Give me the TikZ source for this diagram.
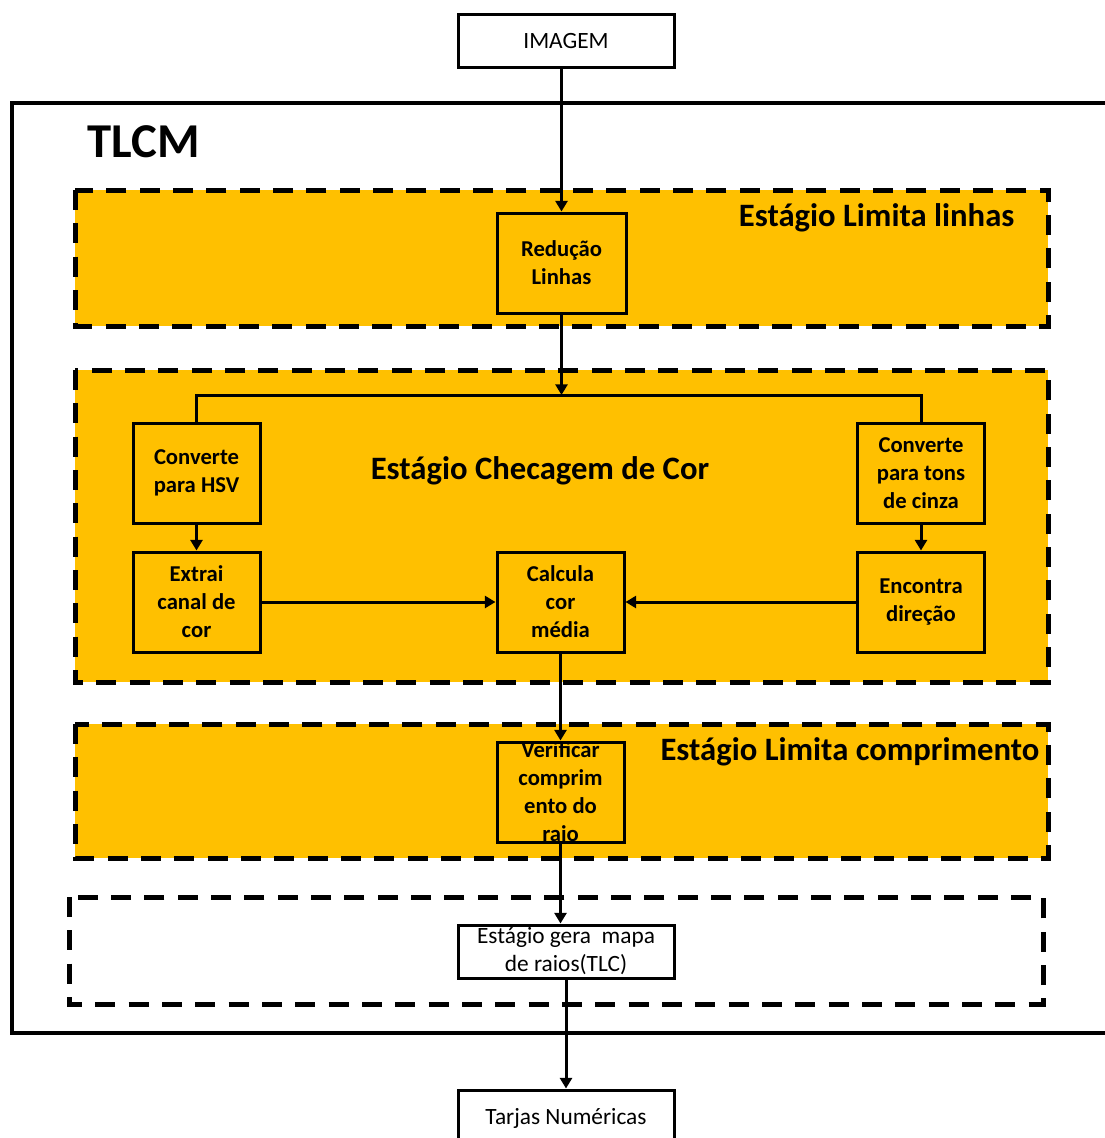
\documentclass[tikz,border=0pt]{standalone}
\usepackage{fontspec}
\setmainfont{Carlito}
\usetikzlibrary{arrows.meta}
\definecolor{stagegold}{HTML}{FFC000}

\begin{document}
\begin{tikzpicture}[
  x=0.75pt, y=-0.75pt,
  every node/.style={font=\fontsize{17.5}{21}\selectfont},
  box/.style={rectangle, draw, line width=2.25pt, minimum width=95.25pt,
    minimum height=75pt, inner sep=0pt, align=center,
    font=\fontsize{17}{21}\selectfont\bfseries},
  wbox/.style={rectangle, draw, fill=white, line width=2.25pt,
    minimum width=162pt, minimum height=39.75pt, inner sep=0pt, align=center},
  stage/.style={draw, line width=3.75pt, dash pattern=on 15pt off 10pt},
  title/.style={font=\fontsize{24.5}{28}\selectfont\bfseries},
  arr/.style={-{Triangle[length=8pt,width=9pt]}, line width=2.25pt},
  line/.style={line width=2.25pt},
]
  \clip (0,0) rectangle (1105,1138);

  %% Outer TLCM frame (runs off the right edge)
  \draw[line width=3pt] (12,103) rectangle (1112,1033);
  \node[anchor=west, font=\fontsize{36.5}{40}\selectfont\bfseries] (tlcm) at (83,142) {TLCM};

  %% Stage frames
  \draw[stage, fill=stagegold] (75,190) rectangle (1048,326);
  \draw[stage, fill=stagegold] (75,370) rectangle (1048,682);
  \draw[stage, fill=stagegold] (75,724) rectangle (1048,858);
  \draw[stage] (69,897) rectangle (1043,1004);

  \node[title, anchor=east] (st1) at (1019,218) {Estágio Limita linhas};
  \node[title] (st2) at (540,471) {Estágio Checagem de Cor};
  \node[title, anchor=east] (st3) at (1044,752) {Estágio Limita comprimento};

  %% Input / output boxes
  \node[wbox] (img) at (566,41.5) {IMAGEM};
  \node[wbox] (gera) at (566,951.5) {Estágio gera\ \ mapa\\de raios(TLC)};
  \node[wbox, minimum height=45pt] (tarjas) at (566,1120) {};
  \node at (566,1118) {Tarjas Numéricas};

  %% Stage 1
  \node[box, minimum width=96.75pt] (red) at (561.5,263) {Redução\\Linhas};

  %% Stage 2
  \node[box] (hsv) at (196.5,473) {Converte\\para HSV};
  \node[box] (extrai) at (196.5,602) {Extrai\\canal de\\cor};
  \node[box] (calc) at (560.5,602) {Calcula\\cor\\média};
  \node[box] (cinza) at (921,473) {Converte\\para tons\\de cinza};
  \node[box] (dir) at (921,602) {Encontra\\direção};

  %% Stage 3 (text spills over the box)
  \node[box] (verif) at (560.5,792) {};
  \node[font=\fontsize{17}{21}\selectfont\bfseries, align=center] at (verif) {Verificar\\comprim\\ento do\\raio};

  %% Connectors
  \coordinate (split) at (561.5,395);
  \draw[arr] (red |- img.south) -- (red.north);
  \draw[arr] (red) -- (split);
  \draw[line] (hsv.north) |- (split) -| (cinza.north);
  \draw[arr] (hsv) -- (extrai);
  \draw[arr] (cinza) -- (dir);
  \draw[arr] (extrai) -- (calc);
  \draw[arr] (dir) -- (calc);
  \draw[arr] (calc) -- (verif);
  \draw[arr] (verif.south) -- (verif.south |- gera.north);
  \draw[arr] (gera) -- (tarjas);
\end{tikzpicture}
\end{document}
